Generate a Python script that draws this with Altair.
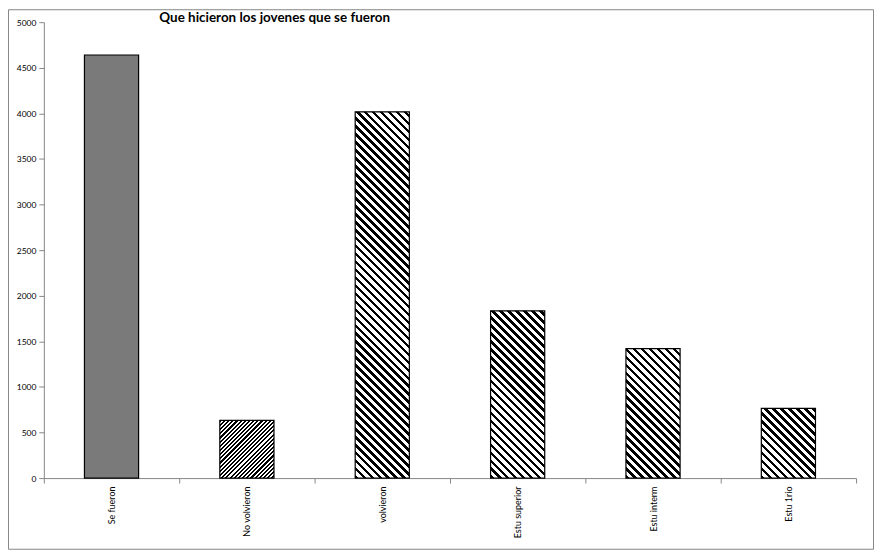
import altair as alt
import pandas as pd

# ---- data ----
categorias = ["Se fueron", "No volvieron", "volvieron", "Estu superior", "Estu interm", "Estu 1rio"]
valores = [4640, 633, 4017, 1834, 1419, 764]
ticks_y = list(range(0, 5001, 500))
titulo = "Que hicieron los jovenes que se fueron"

# ---- layout / style ----
W, H = 816, 458
YMAX = 5000
BAND = 0.4
GRAY = "#868686"
FONT = "Lato"

df = pd.DataFrame({"cat": categorias, "val": valores})


def stripes(w, h, direction, period, frac, on="black", off="white"):
    """Linear gradient (bbox units) that draws 45-degree hatching."""
    k = (w + h) / (w * w + h * h)
    if direction == "back":  # "\" lines
        x1, y1, x2, y2 = 0, 1, k * w, 1 - k * h
    else:  # "/" lines
        x1, y1, x2, y2 = 0, 0, k * w, k * h
    n = (w + h) / period
    dt = 1.0 / n
    stops = []
    i = 0
    while i * dt < 1:
        a = i * dt
        b = min(a + frac * dt, 1)
        c = min((i + 1) * dt, 1)
        stops += [
            {"offset": round(a, 5), "color": on},
            {"offset": round(b, 5), "color": on},
            {"offset": round(b, 5), "color": off},
            {"offset": round(c, 5), "color": off},
        ]
        i += 1
    return {"gradient": "linear", "x1": x1, "y1": y1, "x2": x2, "y2": y2, "stops": stops}


step = W / len(categorias)
bw = step * BAND

base = alt.Chart(df).encode(
    x=alt.X(
        "cat:N",
        sort=categorias,
        scale=alt.Scale(paddingInner=0, paddingOuter=0),
        axis=alt.Axis(
            title=None,
            labelAngle=-90,
            tickBand="extent",
            tickSize=5,
            labelPadding=3,
            domainColor=GRAY,
            tickColor=GRAY,
            labelFont=FONT,
            labelFontSize=9,
            labelColor="black",
            grid=False,
        ),
    ),
    y=alt.Y(
        "val:Q",
        scale=alt.Scale(domain=[0, YMAX], nice=False),
        axis=alt.Axis(
            title=None,
            values=ticks_y,
            format="d",
            tickSize=5,
            labelPadding=3,
            domainColor=GRAY,
            tickColor=GRAY,
            labelFont=FONT,
            labelFontSize=8.5,
            labelColor="black",
            grid=False,
        ),
    ),
)

frame = alt.Chart(pd.DataFrame({"k": [0]})).mark_rect(
    fillOpacity=0, stroke=GRAY, strokeWidth=1
).encode(
    x=alt.value(-35.5), x2=alt.value(W + 17.5), y=alt.value(-12.5), y2=alt.value(H + 71.5)
)

layers = [frame]
for i, (c, v) in enumerate(zip(categorias, valores)):
    h = v / YMAX * H
    if i == 0:
        fill = "#7a7a7a"  # fine checker pattern, rendered as its average tone
    elif i == 1:
        fill = stripes(bw, h, "fwd", 4.2, 0.5)
    else:
        fill = stripes(bw, h, "back", 8, 0.45)
    layers.append(
        base.transform_filter(alt.datum.cat == c).mark_bar(
            width=alt.RelativeBandSize(BAND),
            fill=fill,
            stroke="black",
            strokeWidth=1.2,
        )
    )

chart = (
    alt.layer(*layers)
    .properties(
        width=W,
        height=H,
        title=alt.TitleParams(
            text=titulo,
            anchor="start",
            dx=152,
            font=FONT,
            fontSize=13.5,
            fontWeight="bold",
            color="black",
            offset=-15,
        ),
        padding={"left": 36, "top": 13, "right": 18, "bottom": 72},
        autosize=alt.AutoSizeParams(type="none"),
    )
    .configure_view(stroke=None)
)

chart.save("out.html", embed_options={"renderer": "svg", "actions": False})
